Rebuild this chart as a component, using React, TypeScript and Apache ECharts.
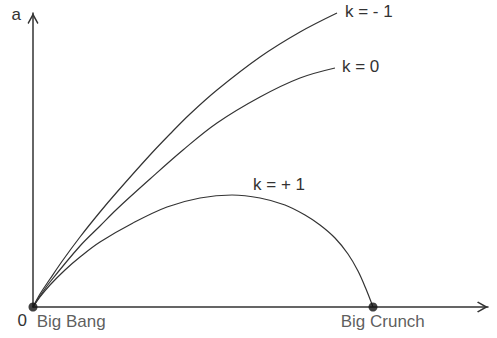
import React, { useEffect, useRef } from 'react';
import * as echarts from 'echarts';

// Time t (origin = Big Bang) and scale factor a
const tOpen = [0, 0.7, 1.7, 3.0, 4.7, 6.7, 8.4, 11.7, 13.7, 15.7, 18.4, 22.7, 26.7, 30.4];
const aOpen = [0, 1.3, 2.8, 4.7, 7.0, 9.5, 11.5, 15.2, 17.3, 19.3, 21.7, 25.0, 27.5, 29.4];

const tFlat = [0, 0.7, 1.7, 4.7, 6.7, 8.4, 11.7, 15.0, 18.4, 22.7, 26.7, 30.2];
const aFlat = [0, 1.1, 2.5, 6.1, 8.1, 9.8, 12.8, 15.7, 18.4, 21.0, 22.9, 23.9];

const tClosed = [0, 0.7, 1.7, 3.2, 4.7, 6.7, 10.0, 13.4, 16.7, 19.9, 22.7, 25.2, 27.2, 28.7, 30.2, 31.5, 32.5, 33.3, 34.0];
const aClosed = [0, 1.0, 2.2, 3.7, 5.0, 6.5, 8.4, 10.0, 10.9, 11.2, 10.9, 10.2, 9.2, 8.2, 6.9, 5.3, 3.6, 1.8, 0];

const seriesNames = ['k = - 1', 'k = 0', 'k = + 1'];
const eventNames = ['Big Bang', 'Big Crunch'];
const eventTimes = [0, 34.0];
const axisNameA = 'a';
const originLabel = '0';
const closedLabelIndex = 10;

const X_MAX = 45.5;
const Y_MAX = 29.4;

const FONT = 'Liberation Sans, Arial, sans-serif';
const INK = '#333';
const chevron = 'path://M5,0 L10,9 L9,10 L5,3 L1,10 L0,9 Z';

export default function App() {
  const ref = useRef<HTMLDivElement>(null);
  useEffect(() => {
    const chart = echarts.init(ref.current!, null, { renderer: 'svg' });
    const pairs = (ts: number[], as: number[]) => ts.map((t, i) => [t, as[i]]);
    const curveStyle = { color: INK, width: 1.2 };
    const textBase = { fontFamily: FONT, fontSize: 17, color: INK };

    const closedData: any[] = pairs(tClosed, aClosed).map((p, i) =>
      i === closedLabelIndex
        ? {
            value: p,
            label: {
              show: true,
              position: 'top',
              distance: 5,
              offset: [19, 0],
              formatter: seriesNames[2],
              ...textBase,
            },
          }
        : p
    );

    const option: any = {
      animation: false,
      backgroundColor: '#fff',
      grid: { left: 33, right: 9, top: 13, bottom: 31, containLabel: false, outerBoundsMode: 'none' },
      xAxis: {
        type: 'value',
        min: 0,
        max: X_MAX,
        splitLine: { show: false },
        axisTick: { show: false },
        axisLine: {
          show: true,
          lineStyle: { color: INK, width: 1.5 },
          symbol: ['none', chevron],
          symbolSize: [11, 11],
          symbolOffset: [0, -5.5],
        },
        axisLabel: {
          show: true,
          formatter: (v: number) => (v === 0 ? originLabel : ''),
          align: 'right',
          padding: [0, 6, 0, 0],
          margin: 5,
          ...textBase,
        },
      },
      yAxis: {
        type: 'value',
        min: 0,
        max: Y_MAX,
        name: axisNameA,
        nameLocation: 'end',
        nameGap: -1,
        nameTextStyle: { ...textBase, align: 'right', verticalAlign: 'middle', padding: [0, 12, 0, 0] },
        splitLine: { show: false },
        axisTick: { show: false },
        axisLabel: { show: false },
        axisLine: {
          show: true,
          lineStyle: { color: INK, width: 1.5 },
          symbol: ['none', chevron],
          symbolSize: [13, 11],
          symbolOffset: [0, -5.5],
        },
      },
      series: [
        {
          name: seriesNames[0],
          type: 'line',
          data: pairs(tOpen, aOpen),
          showSymbol: false,
          smooth: 0.35,
          clip: false,
          lineStyle: curveStyle,
          endLabel: { show: true, formatter: seriesNames[0], distance: 8, offset: [0, -1.5], ...textBase },
        },
        {
          name: seriesNames[1],
          type: 'line',
          data: pairs(tFlat, aFlat),
          showSymbol: false,
          smooth: 0.35,
          clip: false,
          lineStyle: curveStyle,
          endLabel: { show: true, formatter: seriesNames[1], distance: 7, offset: [0, -2], ...textBase },
        },
        {
          name: seriesNames[2],
          type: 'line',
          data: closedData,
          showSymbol: true,
          showAllSymbol: true,
          symbol: 'circle',
          symbolSize: 0,
          itemStyle: { color: INK },
          smooth: 0.35,
          clip: false,
          lineStyle: curveStyle,
        },
        {
          name: 'events',
          type: 'scatter',
          symbolSize: 9,
          z: 5,
          clip: false,
          itemStyle: { color: '#111' },
          data: eventTimes.map((t, i) => ({
            value: [t, 0],
            name: eventNames[i],
            label: {
              show: true,
              position: 'bottom',
              distance: 1,
              align: 'left',
              offset: [i === 0 ? 3.7 : -32.3, 0],
              formatter: eventNames[i],
              ...textBase,
            },
          })),
        },
      ],
    };
    chart.setOption(option);
    return () => chart.dispose();
  }, []);
  return <div ref={ref} style={{ position: 'absolute', left: 0, top: 0, width: 497, height: 338 }} />;
}
